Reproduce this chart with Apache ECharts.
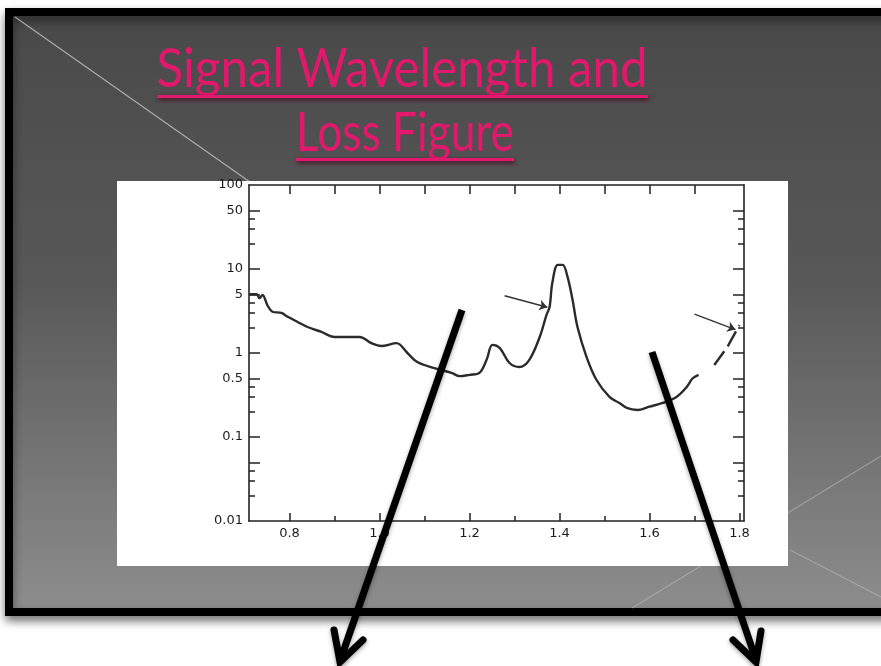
<!DOCTYPE html>
<html><head><meta charset="utf-8">
<script src="https://cdn.jsdelivr.net/npm/echarts@6/dist/echarts.min.js"></script>
<style>html,body{margin:0;padding:0;background:#fff;}#c{width:881px;height:666px;}</style>
</head><body><div id="c"></div>
<script>
// ---- data ----
const titleLines = ['Signal Wavelength and', 'Loss Figure'];
const wavelength = [0.711,0.727,0.733,0.740,0.751,0.762,0.782,0.796,0.818,0.840,0.871,0.900,0.922,0.956,0.982,1.004,1.038,1.062,1.084,1.122,1.160,1.178,1.200,1.222,1.238,1.251,1.267,1.289,1.311,1.333,1.356,1.371,1.378,1.384,1.396,1.407,1.418,1.429,1.440,1.460,1.482,1.511,1.533,1.551,1.573,1.600,1.629,1.660,1.682,1.696,1.709];
const loss = [5.0,5.0,4.5,4.9,3.7,3.1,3.0,2.7,2.34,2.04,1.78,1.55,1.55,1.55,1.31,1.21,1.31,1.0,0.78,0.66,0.58,0.53,0.55,0.58,0.83,1.25,1.15,0.76,0.68,0.83,1.55,2.83,3.53,6.8,11.2,11.2,8.0,4.3,2.04,0.90,0.48,0.30,0.254,0.22,0.21,0.23,0.254,0.30,0.39,0.50,0.55];
const dashedWavelength = [1.744,1.773,1.800];
const dashedLoss = [0.72,1.18,2.15];
const pointerFrom = [[1.278,4.8],[1.700,2.9]];
const pointerTo = [[1.373,3.5],[1.791,1.9]];
const xLabelValues = [0.8,1.0,1.2,1.4,1.6,1.8];
const xMinorTicks = [0.9,1.1,1.3,1.5,1.7];
const xTopTicks = [0.8,0.9,1.0,1.1,1.2,1.3,1.4,1.5,1.6,1.7];
const yLabelValues = [0.01,0.1,0.5,1,5,10,50,100];
const yMajorTicks = [0.05,0.1,0.5,1,5,10,50];
const yMinorTicks = [0.02,0.03,0.04,0.2,0.3,0.4,2,3,4,20,30,40];

// ---- chart ----
const chart = echarts.init(document.getElementById('c'), null, {renderer:'canvas'});
const axisColor = '#222';
const labelStyle = {color:'#1c1c1c', fontFamily:'DejaVu Sans', fontSize:13};
const X_MIN = 0.71, X_MAX = 1.81;

function xAx(pos, opts){
  return Object.assign({type:'value', position:pos, min:X_MIN, max:X_MAX, splitLine:{show:false},
    axisLine:{show:false}, axisLabel:{show:false}, axisTick:{show:false}}, opts);
}
function yAx(pos, opts){
  return Object.assign({type:'log', logBase:10, position:pos, min:0.01, max:100, splitLine:{show:false},
    axisLine:{show:false}, axisLabel:{show:false}, axisTick:{show:false}}, opts);
}
const lineS = {color:axisColor, width:1.6};
const tickS = {color:axisColor, width:1.5};

function measure(text, font){
  const ctx = document.createElement('canvas').getContext('2d');
  ctx.font = font; return ctx.measureText(text).width;
}
const titleFont = '54px Lato';
const sx1 = 491 / measure(titleLines[0], titleFont);
const sx2 = 218 / measure(titleLines[1], titleFont);
const pink = '#e2186c';
const titleShadow = {shadowColor:'rgba(70,0,25,0.95)', shadowBlur:4, shadowOffsetX:1, shadowOffsetY:2};

const option = {
  animation:false,
  backgroundColor:'#ffffff',
  grid:{left:249, top:185, width:495, height:336, containLabel:false},
  xAxis:[
    xAx('bottom',{axisLine:{show:true,lineStyle:lineS},
      axisTick:{show:true,inside:true,length:8,customValues:xLabelValues,lineStyle:tickS},
      axisLabel:Object.assign({show:true,customValues:xLabelValues,margin:6,formatter:v=>Number(v).toFixed(1)},labelStyle)}),
    xAx('bottom',{axisTick:{show:true,inside:true,length:5,customValues:xMinorTicks,lineStyle:tickS}}),
    xAx('top',{axisLine:{show:true,lineStyle:lineS},
      axisTick:{show:true,inside:true,length:9,customValues:xTopTicks,lineStyle:tickS}})
  ],
  yAxis:[
    yAx('left',{axisLine:{show:true,lineStyle:lineS},
      axisTick:{show:true,inside:true,length:11,customValues:yMajorTicks,lineStyle:tickS},
      axisLabel:Object.assign({show:true,customValues:yLabelValues,margin:6,formatter:v=>String(+Number(v).toPrecision(3))},labelStyle)}),
    yAx('left',{axisTick:{show:true,inside:true,length:6,customValues:yMinorTicks,lineStyle:tickS}}),
    yAx('right',{axisLine:{show:true,lineStyle:lineS},
      axisTick:{show:true,inside:true,length:11,customValues:yMajorTicks,lineStyle:tickS}}),
    yAx('right',{axisTick:{show:true,inside:true,length:6,customValues:yMinorTicks,lineStyle:tickS}})
  ],
  series:[
    {type:'line', xAxisIndex:0, yAxisIndex:0, data:wavelength.map((w,i)=>[w,loss[i]]),
     smooth:0.35, showSymbol:false, silent:true,
     lineStyle:{color:'#2b2b2b', width:2.4},
     markLine:{silent:true, symbol:['none','arrow'], symbolSize:8, label:{show:false},
       lineStyle:{type:'solid', color:'#333', width:1.4},
       data: pointerFrom.map((p,i)=>[{coord:p},{coord:pointerTo[i]}])}},
    {type:'line', xAxisIndex:0, yAxisIndex:0, data:dashedWavelength.map((w,i)=>[w,dashedLoss[i]]),
     showSymbol:false, silent:true, lineStyle:{color:'#2b2b2b', width:2.4, type:[17,6]}}
  ],
  graphic:[
    {type:'rect', z:-30, shape:{x:9,y:12,width:900,height:600},
     style:{fill:new echarts.graphic.LinearGradient(0,0,0,1,[
        {offset:0,color:'#494949'},{offset:0.45,color:'#585858'},{offset:1,color:'#8e8e8e'}]),
       stroke:'#000', lineWidth:8, shadowBlur:10, shadowOffsetY:5, shadowColor:'rgba(0,0,0,0.45)'}},
    {type:'line', z:-25, shape:{x1:15,y1:17,x2:250,y2:182}, style:{stroke:'rgba(200,200,200,0.75)', lineWidth:1.3}},
    {type:'line', z:-25, shape:{x1:632,y1:608,x2:881,y2:456}, style:{stroke:'rgba(200,200,200,0.45)', lineWidth:1.2}},
    {type:'line', z:-25, shape:{x1:790,y1:550,x2:881,y2:597}, style:{stroke:'rgba(200,200,200,0.45)', lineWidth:1.2}},
    {type:'rect', z:-20, shape:{x:117,y:181,width:671,height:385}, style:{fill:'#ffffff'}},
    {type:'text', z:10, x:402, y:70, scaleX:sx1,
     style:Object.assign({text:titleLines[0], x:0, y:0, align:'center', verticalAlign:'middle', font:titleFont, fill:pink}, titleShadow)},
    {type:'text', z:10, x:405, y:134, scaleX:sx2,
     style:Object.assign({text:titleLines[1], x:0, y:0, align:'center', verticalAlign:'middle', font:titleFont, fill:pink}, titleShadow)},
    {type:'rect', z:10, shape:{x:157,y:95,width:491,height:3}, style:Object.assign({fill:pink}, titleShadow)},
    {type:'rect', z:10, shape:{x:296,y:158,width:218,height:3}, style:Object.assign({fill:pink}, titleShadow)},
    {type:'polyline', z:100, shape:{points:[[462,310],[340,661]]},
     style:{stroke:'#000', lineWidth:7, lineCap:'butt', shadowBlur:4, shadowColor:'rgba(0,0,0,0.35)', shadowOffsetY:2}},
    {type:'polyline', z:100, shape:{points:[[334,630],[340,662],[363,640]]},
     style:{stroke:'#000', lineWidth:7, lineCap:'round', lineJoin:'miter', fill:null, shadowBlur:4, shadowColor:'rgba(0,0,0,0.35)', shadowOffsetY:2}},
    {type:'polyline', z:100, shape:{points:[[652,352],[756,660]]},
     style:{stroke:'#000', lineWidth:7, lineCap:'butt', shadowBlur:4, shadowColor:'rgba(0,0,0,0.35)', shadowOffsetY:2}},
    {type:'polyline', z:100, shape:{points:[[733,640],[756,662],[761,631]]},
     style:{stroke:'#000', lineWidth:7, lineCap:'round', lineJoin:'miter', fill:null, shadowBlur:4, shadowColor:'rgba(0,0,0,0.35)', shadowOffsetY:2}}
  ]
};
chart.setOption(option);
</script></body></html>
